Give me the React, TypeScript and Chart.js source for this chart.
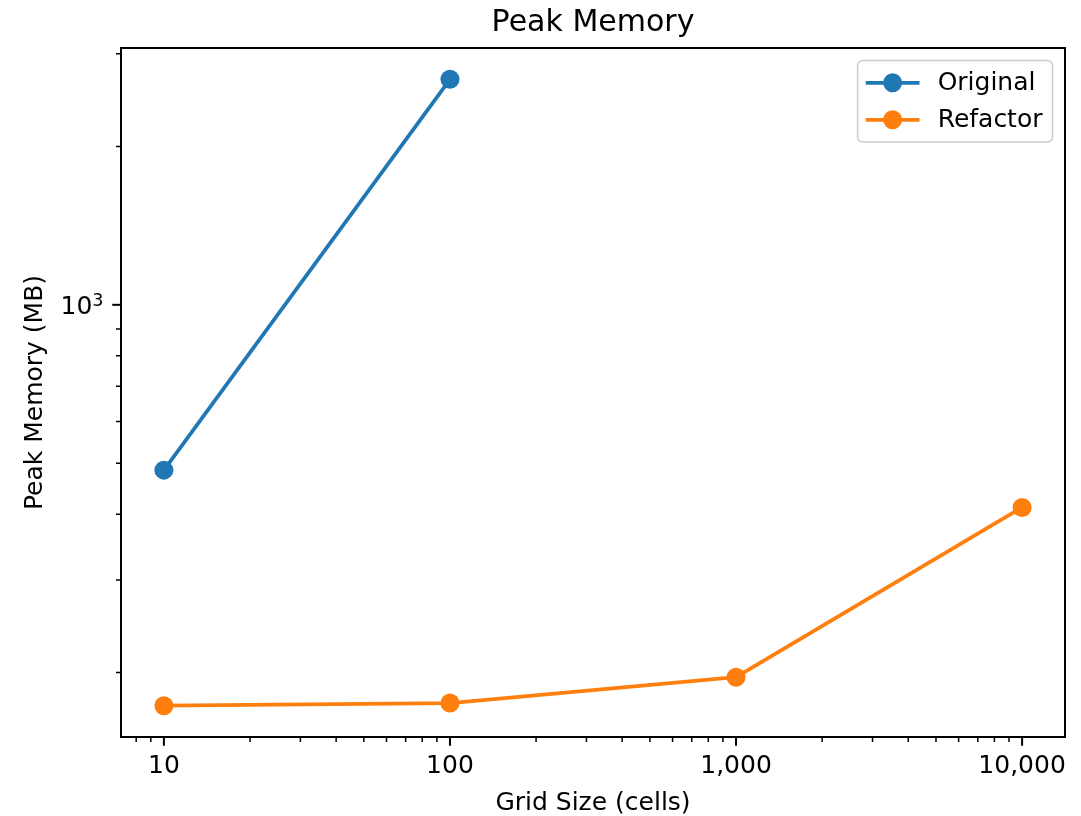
import React, { useEffect, useRef } from 'react';
import { Chart, registerables } from 'chart.js';

Chart.register(...registerables);

// ---- data ----
const originalGrid = [10, 100];
const originalMemory = [485, 2683];
const refactorGrid = [10, 100, 1000, 10000];
const refactorMemory = [173, 175, 196, 412];
const seriesNames = ['Original', 'Refactor'];
const seriesColors = ['#1f77b4', '#ff7f0e'];
const xTickValues = [10, 100, 1000, 10000];
const xTickLabels = ['10', '100', '1,000', '10,000'];
const yTickValues = [1000];
const yTickBases = ['10'];
const yTickExponents = ['3'];
const titleText = 'Peak Memory';
const xTitle = 'Grid Size (cells)';
const yTitle = 'Peak Memory (MB)';

const FONT = '"DejaVu Sans", "Liberation Sans", sans-serif';
const EM = 25; // 10pt at ~180 dpi
const PT = EM / 10;

function logLimits(values: number[]) {
  const lo = Math.log10(Math.min(...values));
  const hi = Math.log10(Math.max(...values));
  const m = (hi - lo) * 0.05;
  return [Math.pow(10, lo - m), Math.pow(10, hi + m)];
}

function minorTicks(min: number, max: number, majors: number[]) {
  const out: number[] = [];
  const d0 = Math.floor(Math.log10(min));
  const d1 = Math.ceil(Math.log10(max));
  for (let d = d0; d <= d1; d++) {
    for (let k = 2; k <= 9; k++) {
      const v = k * Math.pow(10, d);
      if (v >= min && v <= max && !majors.includes(v)) out.push(v);
    }
  }
  return out;
}

const frameTicksPlugin = {
  id: 'frameTicks',
  afterDatasetsDraw(chart: any) {
    const { ctx, chartArea, scales } = chart;
    const xs = scales.x;
    const ys = scales.y;
    ctx.save();
    ctx.strokeStyle = '#000';
    const drawX = (vals: number[], len: number, w: number) => {
      ctx.lineWidth = w;
      ctx.beginPath();
      vals.forEach((v) => {
        const px = xs.getPixelForValue(v);
        ctx.moveTo(px, chartArea.bottom);
        ctx.lineTo(px, chartArea.bottom + len);
      });
      ctx.stroke();
    };
    const drawY = (vals: number[], len: number, w: number) => {
      ctx.lineWidth = w;
      ctx.beginPath();
      vals.forEach((v) => {
        const py = ys.getPixelForValue(v);
        ctx.moveTo(chartArea.left, py);
        ctx.lineTo(chartArea.left - len, py);
      });
      ctx.stroke();
    };
    const xMajors = xTickValues.filter((v) => v >= xs.min && v <= xs.max);
    const yMajors = yTickValues.filter((v) => v >= ys.min && v <= ys.max);
    drawX(xMajors, 3.5 * PT, 0.8 * PT);
    drawX(minorTicks(xs.min, xs.max, xTickValues), 2 * PT, 0.6 * PT);
    drawY(yMajors, 3.5 * PT, 0.8 * PT);
    drawY(minorTicks(ys.min, ys.max, yTickValues), 2 * PT, 0.6 * PT);
    // y tick labels as base with superscript exponent
    ctx.fillStyle = '#000';
    ctx.textBaseline = 'alphabetic';
    ctx.textAlign = 'left';
    yMajors.forEach((v) => {
      const i = yTickValues.indexOf(v);
      const py = ys.getPixelForValue(v);
      const rightX = chartArea.left - 7 * PT;
      ctx.font = `${0.7 * EM}px ${FONT}`;
      const wExp = ctx.measureText(yTickExponents[i]).width;
      ctx.font = `${EM}px ${FONT}`;
      const wBase = ctx.measureText(yTickBases[i]).width;
      const baseX = rightX - wExp - wBase;
      const baseline = py + 9.5;
      ctx.fillText(yTickBases[i], baseX, baseline);
      ctx.font = `${0.7 * EM}px ${FONT}`;
      ctx.fillText(yTickExponents[i], baseX + wBase, baseline - 8.5);
    });
    // frame
    ctx.lineWidth = 0.8 * PT;
    ctx.strokeRect(chartArea.left, chartArea.top, chartArea.right - chartArea.left, chartArea.bottom - chartArea.top);
    ctx.restore();
  },
};

const legendPlugin = {
  id: 'mplLegend',
  afterDraw(chart: any) {
    const { ctx, chartArea } = chart;
    const datasets = chart.data.datasets;
    ctx.save();
    ctx.font = `${EM}px ${FONT}`;
    const textW = Math.max(...datasets.map((d: any) => ctx.measureText(d.label).width));
    const pad = 0.4 * EM;
    const handleLen = 2 * EM;
    const handlePad = 0.8 * EM;
    const rowH = 0.98 * EM;
    const rowGap = 0.5 * EM;
    const w = pad * 2 + handleLen + handlePad + textW;
    const h = pad * 2 + rowH * datasets.length + rowGap * (datasets.length - 1);
    const right = chartArea.right - 0.5 * EM;
    const top = chartArea.top + 0.5 * EM;
    const left = right - w;
    const r = 0.2 * EM;
    ctx.beginPath();
    ctx.moveTo(left + r, top);
    ctx.lineTo(left + w - r, top);
    ctx.arcTo(left + w, top, left + w, top + r, r);
    ctx.lineTo(left + w, top + h - r);
    ctx.arcTo(left + w, top + h, left + w - r, top + h, r);
    ctx.lineTo(left + r, top + h);
    ctx.arcTo(left, top + h, left, top + h - r, r);
    ctx.lineTo(left, top + r);
    ctx.arcTo(left, top, left + r, top, r);
    ctx.closePath();
    ctx.fillStyle = 'rgba(255,255,255,0.8)';
    ctx.fill();
    ctx.strokeStyle = '#cccccc';
    ctx.lineWidth = 1.5;
    ctx.stroke();
    datasets.forEach((d: any, i: number) => {
      const cy = top + pad + rowH / 2 + i * (rowH + rowGap);
      const x0 = left + pad;
      ctx.strokeStyle = d.borderColor;
      ctx.lineWidth = d.borderWidth;
      ctx.lineCap = 'square';
      ctx.beginPath();
      ctx.moveTo(x0, cy);
      ctx.lineTo(x0 + handleLen, cy);
      ctx.stroke();
      ctx.fillStyle = d.pointBackgroundColor;
      ctx.beginPath();
      ctx.arc(x0 + handleLen / 2, cy, d.pointRadius, 0, Math.PI * 2);
      ctx.fill();
      ctx.fillStyle = '#000';
      ctx.textAlign = 'left';
      ctx.textBaseline = 'middle';
      ctx.fillText(d.label, x0 + handleLen + handlePad, cy + 1);
    });
    ctx.restore();
  },
};

export default function App() {
  const ref = useRef<HTMLCanvasElement | null>(null);
  useEffect(() => {
    document.body.style.margin = '0';
    const canvas = ref.current;
    if (!canvas) return;
    const [xMin, xMax] = logLimits([...originalGrid, ...refactorGrid]);
    const [yMin, yMax] = logLimits([...originalMemory, ...refactorMemory]);
    const mk = (xs: number[], ys: number[], i: number) => ({
      label: seriesNames[i],
      data: xs.map((x, k) => ({ x, y: ys[k] })),
      borderColor: seriesColors[i],
      backgroundColor: seriesColors[i],
      pointBackgroundColor: seriesColors[i],
      pointBorderWidth: 0,
      pointRadius: 9.5,
      borderWidth: 1.5 * PT,
      borderCapStyle: 'square',
      borderJoinStyle: 'round',
      tension: 0,
      fill: false,
    });
    const chart = new Chart(canvas, {
      type: 'line',
      data: {
        datasets: [mk(originalGrid, originalMemory, 0), mk(refactorGrid, refactorMemory, 1)] as any,
      },
      options: {
        animation: false,
        responsive: false,
        devicePixelRatio: 1,
        events: [],
        layout: { padding: { left: 0, right: 16, top: 0, bottom: 0 } },
        plugins: {
          legend: { display: false },
          tooltip: { enabled: false },
          title: {
            display: true,
            fullSize: false,
            text: titleText,
            color: '#000',
            font: { family: FONT, size: 1.2 * EM, weight: 'normal', lineHeight: 1 },
            padding: { top: 8, bottom: 10 },
          },
        },
        scales: {
          x: {
            type: 'logarithmic',
            position: 'bottom',
            min: xMin,
            max: xMax,
            grid: { display: false, drawTicks: false },
            border: { display: false },
            afterBuildTicks: (s: any) => {
              s.ticks = xTickValues.map((v) => ({ value: v }));
            },
            afterFit: (s: any) => {
              s.height = 79;
            },
            ticks: {
              autoSkip: false,
              maxRotation: 0,
              color: '#000',
              padding: 14,
              font: { family: FONT, size: EM, lineHeight: 1.2 },
              callback: (v: any) => {
                const i = xTickValues.indexOf(Number(v));
                return i >= 0 ? xTickLabels[i] : '';
              },
            },
            title: {
              display: true,
              text: xTitle,
              color: '#000',
              font: { family: FONT, size: EM, lineHeight: 1 },
              padding: { top: 0, bottom: 0 },
            },
          },
          y: {
            type: 'logarithmic',
            position: 'left',
            min: yMin,
            max: yMax,
            grid: { display: false, drawTicks: false },
            border: { display: false },
            afterBuildTicks: (s: any) => {
              s.ticks = yTickValues.map((v) => ({ value: v }));
            },
            afterFit: (s: any) => {
              s.width = 121;
            },
            ticks: {
              display: false,
            },
            title: {
              display: true,
              text: yTitle,
              color: '#000',
              font: { family: FONT, size: EM, lineHeight: 1 },
              padding: { top: 22.5, bottom: 0 },
            },
          },
        },
      },
      plugins: [frameTicksPlugin, legendPlugin],
    } as any);
    return () => chart.destroy();
  }, []);
  return (
    <div style={{ width: 1081, height: 816, background: '#fff' }}>
      <canvas ref={ref} width={1081} height={816} style={{ display: 'block', width: 1081, height: 816 }} />
    </div>
  );
}
